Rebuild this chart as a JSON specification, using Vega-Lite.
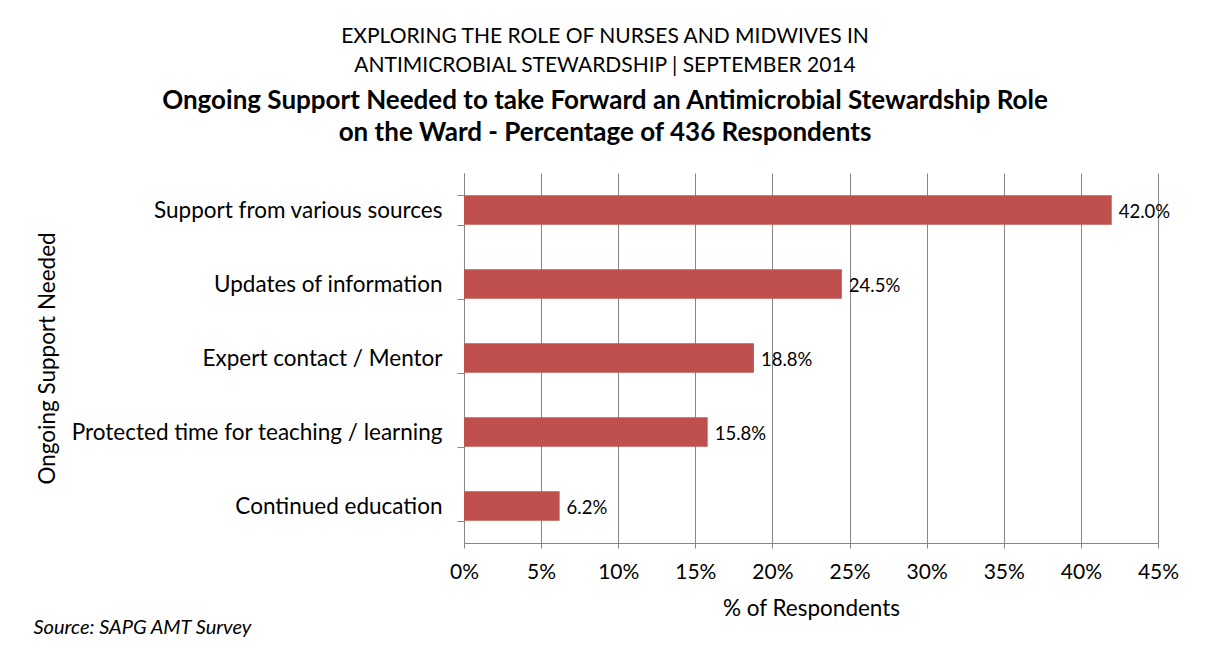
{
  "$schema": "https://vega.github.io/schema/vega-lite/v6.json",
  "width": 694,
  "height": 370,
  "autosize": {"type": "none"},
  "padding": {"left": 464, "top": 173, "right": 47, "bottom": 107},
  "background": "white",
  "title": {
    "text": ["EXPLORING THE ROLE OF NURSES AND MIDWIVES IN", "ANTIMICROBIAL STEWARDSHIP | SEPTEMBER 2014"],
    "subtitle": ["Ongoing Support  Needed to take Forward an Antimicrobial  Stewardship Role", "on the Ward  - Percentage of 436 Respondents"],
    "anchor": "middle",
    "dx": -206,
    "offset": 16,
    "font": "Lato",
    "fontSize": 21,
    "fontWeight": "normal",
    "lineHeight": 29,
    "color": "#000000",
    "subtitleFont": "Lato",
    "subtitleFontSize": 26,
    "subtitleFontWeight": "bold",
    "subtitleLineHeight": 32,
    "subtitleColor": "#000000",
    "subtitlePadding": 12
  },
  "data": {
    "values": [
      {"support": "Support from various sources", "value": 0.420},
      {"support": "Updates of information", "value": 0.245},
      {"support": "Expert contact / Mentor", "value": 0.188},
      {"support": "Protected time for teaching / learning", "value": 0.158},
      {"support": "Continued education", "value": 0.062}
    ]
  },
  "encoding": {
    "y": {
      "field": "support",
      "type": "nominal",
      "sort": null,
      "scale": {"paddingInner": 0.6, "paddingOuter": 0.3},
      "axis": {
        "title": "Ongoing Support Needed",
        "titleFont": "Lato",
        "titleFontSize": 22.5,
        "titleFontWeight": "normal",
        "titleColor": "#000000",
        "titleX": -417,
        "titleY": 185,
        "titleAngle": -90,
        "titleAlign": "center",
        "titleBaseline": "middle",
        "labelFont": "Lato",
        "labelFontSize": 22.5,
        "labelColor": "#000000",
        "labelPadding": 15,
        "labelLimit": 500,
        "tickBand": "extent",
        "tickSize": 7,
        "tickColor": "#868686",
        "domainColor": "#868686",
        "grid": false
      }
    }
  },
  "layer": [
    {
      "mark": {"type": "bar", "color": "#C0504D"},
      "encoding": {
        "x": {
          "field": "value",
          "type": "quantitative",
          "scale": {"domain": [0, 0.45], "nice": false},
          "axis": {
            "title": "% of Respondents",
            "titleFont": "Lato",
            "titleFontSize": 22.5,
            "titleFontWeight": "normal",
            "titleColor": "#000000",
            "titlePadding": 15,
            "values": [0, 0.05, 0.1, 0.15, 0.2, 0.25, 0.3, 0.35, 0.4, 0.45],
            "format": ".0%",
            "labelFont": "Lato",
            "labelFontSize": 21,
            "labelColor": "#000000",
            "labelPadding": 13,
            "labelFlush": false,
            "tickSize": 5,
            "tickColor": "#868686",
            "domainColor": "#868686",
            "grid": true,
            "gridColor": "#868686",
            "gridOpacity": 1
          }
        }
      }
    },
    {
      "mark": {"type": "text", "align": "left", "baseline": "middle", "dx": 7, "dy": 2, "font": "Lato", "fontSize": 18.5, "color": "#000000"},
      "encoding": {
        "x": {
          "field": "value",
          "type": "quantitative",
          "scale": {"domain": [0, 0.45], "nice": false},
          "axis": {
            "orient": "bottom",
            "title": "Source: SAPG AMT Survey",
            "titleFont": "Lato",
            "titleFontSize": 20,
            "titleFontStyle": "italic",
            "titleFontWeight": "normal",
            "titleColor": "#000000",
            "titleAlign": "left",
            "titleAnchor": "start",
            "titleBaseline": "middle",
            "titleX": -431,
            "titleY": 84,
            "labels": false,
            "ticks": false,
            "domain": false,
            "grid": false
          }
        },
        "text": {"field": "value", "type": "quantitative", "format": ".1%"}
      }
    }
  ],
  "resolve": {"scale": {"x": "independent"}, "axis": {"x": "independent"}},
  "config": {
    "view": {"stroke": null}
  }
}
